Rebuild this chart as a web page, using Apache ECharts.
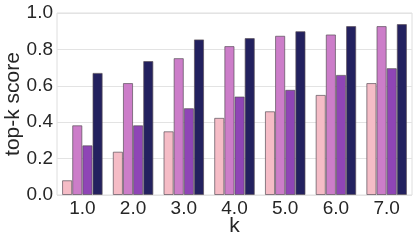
<!DOCTYPE html>
<html><head><meta charset="utf-8">
<script src="https://cdn.jsdelivr.net/npm/echarts@6/dist/echarts.min.js"></script>
<style>html,body{margin:0;padding:0;background:#fff}#c{width:416px;height:244px}</style>
</head><body><div id="c"></div>
<script>
const categories = ['1.0','2.0','3.0','4.0','5.0','6.0','7.0'];
const seriesA = [0.081, 0.238, 0.350, 0.424, 0.460, 0.550, 0.615];
const seriesB = [0.383, 0.615, 0.752, 0.818, 0.875, 0.882, 0.928];
const seriesC = [0.273, 0.383, 0.477, 0.541, 0.578, 0.660, 0.697];
const seriesD = [0.671, 0.736, 0.855, 0.862, 0.900, 0.928, 0.939];
const yTicks = [0, 0.2, 0.4, 0.6, 0.8, 1.0];
const colors = ['#f5bcc6', '#cc7dc9', '#8f45b6', '#23215f'];

const chart = echarts.init(document.getElementById('c'), null, {renderer:'canvas'});
const font = '"Liberation Sans", Arial, sans-serif';
const mk = (d, i) => ({
  type:'bar', data:d, barGap:'0%', barCategoryGap:'20%',
  itemStyle:{color:colors[i], borderColor:'rgba(90,80,90,0.7)', borderWidth:1},
  silent:true, animation:false
});
chart.setOption({
  animation:false,
  grid:{left:57, right:4, top:13, bottom:49, show:true, borderColor:'#dedede', borderWidth:1,
        containLabel:false, outerBoundsMode:'none'},
  xAxis:{
    type:'category', data:categories,
    name:'k', nameLocation:'middle', nameGap:21, nameMoveOverlap:false,
    nameTextStyle:{fontFamily:font, fontSize:21, color:'#262626'},
    axisLine:{show:false}, axisTick:{show:false},
    axisLabel:{fontFamily:font, fontSize:19, color:'#262626', margin:4},
    splitLine:{show:false}
  },
  yAxis:{
    type:'value', min:0, max:1.0, interval:0.2,
    name:'top-k score', nameLocation:'middle', nameGap:33, nameMoveOverlap:false,
    nameTextStyle:{fontFamily:font, fontSize:21, color:'#262626'},
    axisLine:{show:false}, axisTick:{show:false},
    axisLabel:{fontFamily:font, fontSize:19, color:'#262626', margin:4,
      formatter:v => yTicks.some(t => Math.abs(t - v) < 1e-9) ? v.toFixed(1) : ''},
    splitLine:{lineStyle:{color:'#e3e3e3', width:1}}
  },
  series:[mk(seriesA,0), mk(seriesB,1), mk(seriesC,2), mk(seriesD,3)]
});
</script></body></html>
